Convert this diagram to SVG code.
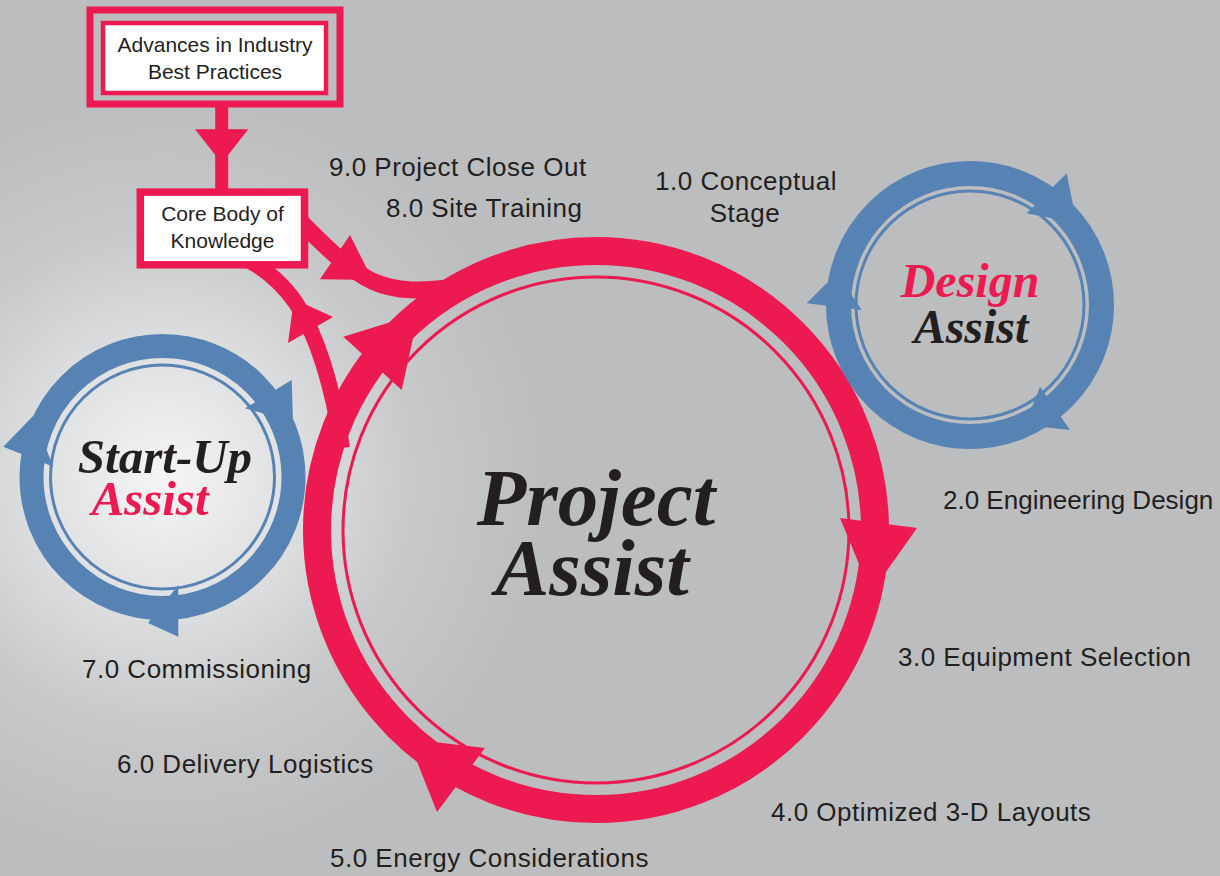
<svg xmlns="http://www.w3.org/2000/svg" width="1220" height="876" viewBox="0 0 1220 876">
<defs>
<radialGradient id="glow" cx="165" cy="478" r="380" gradientUnits="userSpaceOnUse">
<stop offset="0" stop-color="#f5f5f6"/>
<stop offset="0.3" stop-color="#e1e2e3"/>
<stop offset="0.65" stop-color="#c8c9cb"/>
<stop offset="1" stop-color="#bcbdbf"/>
</radialGradient>
<style>
.pk{fill:#ed1951}
.bl{fill:#5783b4}
.band{fill:none;stroke:#ed1951}
.bring{fill:none;stroke:#5783b4}
.lbl{font-family:"Liberation Sans",Arial,sans-serif;font-size:26px;fill:#231f20;letter-spacing:0.5px}
.box{font-family:"Liberation Sans",Arial,sans-serif;font-size:21px;fill:#231f20;text-anchor:middle}
.ttl{font-family:"Liberation Serif","Times New Roman",serif;font-weight:bold;font-style:italic;text-anchor:middle}
</style>
</defs>
<rect x="0" y="0" width="1220" height="876" fill="#bcbdbf"/>
<rect x="0" y="0" width="1220" height="876" fill="url(#glow)"/>

<g id="connectors">
<rect class="pk" x="215.2" y="104" width="13" height="88"/>
<polygon class="pk" points="195,129.3 248.3,129.3 221.7,163.3"/>
<path class="band" stroke-width="17" d="M300 221 C322 243 346 268 372 281 C396 292 422 292 462 286"/>
<polygon class="pk" points="350,235 320,279.3 372.6,280"/>
<path class="band" stroke-width="16" d="M342 448 C334 395 320 340 296 303 C282 283 266 270 250 261"/>
<polygon class="pk" points="288,343 333,317 294,299"/>
</g>

<g id="advances">
<rect x="90" y="10" width="250" height="94" fill="none" stroke="#ed1951" stroke-width="7"/>
<rect x="103" y="23" width="223" height="70" fill="#ffffff" stroke="#ed1951" stroke-width="4.5"/>
<text class="box" x="215" y="52">Advances in Industry</text>
<text class="box" x="215" y="78.5">Best Practices</text>
</g>

<g id="core">
<rect x="140.3" y="192.1" width="164.2" height="72.7" fill="#ffffff" stroke="#ed1951" stroke-width="7.5"/>
<text class="box" x="222.5" y="221">Core Body of</text>
<text class="box" x="222.5" y="247.5">Knowledge</text>
</g>

<g id="project-assist">
<circle class="band" cx="596" cy="530" r="279" stroke-width="28"/>
<circle class="band" cx="596" cy="530" r="253" stroke-width="3"/>
<polygon class="pk" points="840,518 917,528 871,593"/>
<polygon class="pk" points="485,748 437,812 408,739"/>
<polygon class="pk" points="343.3,336.7 401.7,390 418.4,313.5"/>
<text class="ttl" x="596" y="525" font-size="81" fill="#231f20">Project</text>
<text class="ttl" x="592" y="595" font-size="81" fill="#231f20">Assist</text>
</g>

<g id="design-assist">
<circle class="bring" cx="970" cy="305" r="131.5" stroke-width="25"/>
<circle class="bring" cx="970" cy="305" r="114" stroke-width="3"/>
<polygon class="bl" points="1026.7,213.3 1066.7,173.3 1076.7,223.3"/>
<polygon class="bl" points="806.7,303.3 861.7,310 837,273"/>
<polygon class="bl" points="1040,386.7 1070,430 1025,425"/>
<text class="ttl" x="970" y="297" font-size="48" fill="#ed1951">Design</text>
<text class="ttl" x="971" y="343" font-size="48" fill="#231f20">Assist</text>
</g>

<g id="startup-assist">
<circle class="bring" cx="162.5" cy="477" r="131" stroke-width="24"/>
<circle class="bring" cx="162.5" cy="477" r="112" stroke-width="3"/>
<polygon class="bl" points="245,408.3 291.7,380 293,422"/>
<polygon class="bl" points="3.3,446.7 53.3,466.7 33,416"/>
<polygon class="bl" points="178.3,585 178.3,636.7 148,623"/>
<text class="ttl" x="165" y="473" font-size="49" fill="#231f20">Start-Up</text>
<text class="ttl" x="150" y="515" font-size="49" fill="#ed1951">Assist</text>
</g>

<g id="labels">
<text class="lbl" x="329" y="176">9.0 Project Close Out</text>
<text class="lbl" x="386" y="217">8.0 Site Training</text>
<text class="lbl" x="746" y="190" text-anchor="middle">1.0 Conceptual</text>
<text class="lbl" x="745" y="222" text-anchor="middle">Stage</text>
<text class="lbl" x="943" y="509" style="letter-spacing:0">2.0 Engineering Design</text>
<text class="lbl" x="898" y="666">3.0 Equipment Selection</text>
<text class="lbl" x="771" y="821">4.0 Optimized 3-D Layouts</text>
<text class="lbl" x="330" y="867">5.0 Energy Considerations</text>
<text class="lbl" x="117" y="773">6.0 Delivery Logistics</text>
<text class="lbl" x="82" y="678">7.0 Commissioning</text>
</g>
</svg>
